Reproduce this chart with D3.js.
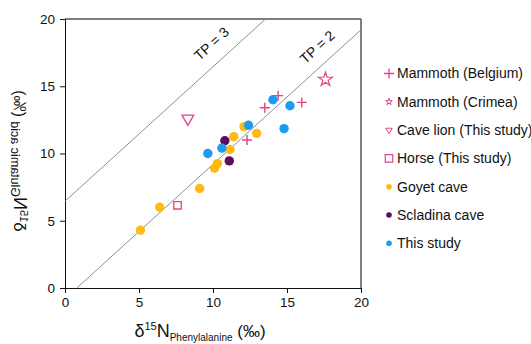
<!DOCTYPE html>
<html><head><meta charset="utf-8">
<script src="https://cdn.jsdelivr.net/npm/d3@7"></script>
<style>body{margin:0;background:#fff}svg{display:block;font-family:"Liberation Sans",Arial,sans-serif}</style>
</head><body><svg width="531" height="344"></svg>
<script>
// ---- data ----
const xTicks = [0, 5, 10, 15, 20];
const yTicks = [0, 5, 10, 15, 20];
const mammothBelgium = [[12.3, 11.0], [13.5, 13.4], [14.4, 14.3], [16.0, 13.8]];
const mammothCrimea = [[17.6, 15.5]];
const caveLion = [[8.3, 12.6]];
const horse = [[7.6, 6.15]];
const goyetCave = [[5.1, 4.3], [6.4, 6.0], [9.1, 7.4], [10.1, 8.9], [10.3, 9.25], [11.15, 10.3], [11.4, 11.25], [12.1, 12.0], [12.95, 11.5]];
const scladinaCave = [[10.8, 10.95], [11.1, 9.45]];
const thisStudy = [[9.65, 10.0], [10.6, 10.4], [12.4, 12.1], [14.8, 11.85], [14.05, 14.0], [15.2, 13.55]];
const tpLabels = ["TP = 3", "TP = 2"];
const tpLineEnds = [[[0, 6.45], [13.55, 20]], [[0.8, 0], [20, 19.2]]];
const legendLabels = ["Mammoth (Belgium)", "Mammoth (Crimea)", "Cave lion (This study)", "Horse (This study)", "Goyet cave", "Scladina cave", "This study"];

// ---- drawing ----
const pink = "#e5428a", yellow = "#fdbb13", purple = "#5b0c5e", blue = "#1c9bef";
const svg = d3.select("svg");
const x = d3.scaleLinear().domain([0, 20]).range([65, 361]);
const y = d3.scaleLinear().domain([0, 20]).range([288, 19]);

// box
svg.append("line").attr("x1", x(0)).attr("x2", x(20)).attr("y1", y(20)).attr("y2", y(20)).attr("stroke", "#555").attr("stroke-width", 1.5);
svg.append("line").attr("x1", x(20)).attr("x2", x(20)).attr("y1", y(20)).attr("y2", y(0)).attr("stroke", "#555").attr("stroke-width", 1.5);

const gx = svg.append("g").attr("transform", `translate(0,${y(0)})`)
  .call(d3.axisBottom(x).tickValues(xTicks).tickSize(5).tickSizeOuter(0).tickPadding(4));
const gy = svg.append("g").attr("transform", `translate(${x(0)},0)`)
  .call(d3.axisLeft(y).tickValues(yTicks).tickSize(5).tickSizeOuter(0).tickPadding(5));
[gx, gy].forEach(g => {
  g.selectAll("text").attr("font-size", 13.5).attr("fill", "#111").attr("font-family", "Liberation Sans, Arial, sans-serif");
  g.selectAll("line,path").attr("stroke", "#111");
});

// TP lines
const angle = Math.atan2(y(1) - y(0), x(1) - x(0)) * 180 / Math.PI;
tpLineEnds.forEach(ends => {
  svg.append("line").attr("x1", x(ends[0][0])).attr("y1", y(ends[0][1]))
    .attr("x2", x(ends[1][0])).attr("y2", y(ends[1][1]))
    .attr("stroke", "#8f8f8f").attr("stroke-width", 1);
});
const tpPos = [[9.95, 18.1], [17.1, 17.85]];
tpLabels.forEach((t, i) => {
  svg.append("text").attr("transform", `translate(${x(tpPos[i][0])},${y(tpPos[i][1])}) rotate(${angle})`)
    .attr("text-anchor", "middle").attr("dominant-baseline", "middle")
    .attr("font-size", 14).attr("fill", "#111").text(t);
});

function crossPath(h) { return `M${-h},0H${h}M0,${-h}V${h}`; }

const plot = svg.append("g");
plot.selectAll(".mb").data(mammothBelgium).join("path")
  .attr("transform", d => `translate(${x(d[0])},${y(d[1])})`)
  .attr("d", crossPath(5)).attr("stroke", pink).attr("stroke-width", 1.4).attr("fill", "none");
plot.selectAll(".mc").data(mammothCrimea).join("path")
  .attr("transform", d => `translate(${x(d[0])},${y(d[1])})`)
  .attr("d", d3.symbol(d3.symbolStar, 60)()).attr("stroke", pink).attr("stroke-width", 1.2).attr("fill", "none");
plot.selectAll(".cl").data(caveLion).join("path")
  .attr("transform", d => `translate(${x(d[0])},${y(d[1])}) rotate(180)`)
  .attr("d", d3.symbol(d3.symbolTriangle, 60)()).attr("stroke", pink).attr("stroke-width", 1.3).attr("fill", "none");
plot.selectAll(".hs").data(horse).join("path")
  .attr("transform", d => `translate(${x(d[0])},${y(d[1])})`)
  .attr("d", d3.symbol(d3.symbolSquare, 56)()).attr("stroke", pink).attr("stroke-width", 1.3).attr("fill", "none");
[[goyetCave, yellow], [scladinaCave, purple], [thisStudy, blue]].forEach(([arr, c]) => {
  plot.append("g").selectAll("circle").data(arr).join("circle")
    .attr("cx", d => x(d[0])).attr("cy", d => y(d[1])).attr("r", 4.7).attr("fill", c);
});

// legend
const lg = svg.append("g");
const ly = i => 73.5 + i * 28.3;
const lx = 389;
legendLabels.forEach((t, i) => {
  const g = lg.append("g").attr("transform", `translate(${lx},${ly(i)})`);
  if (i === 0) g.append("path").attr("d", crossPath(5)).attr("stroke", pink).attr("stroke-width", 1.3).attr("fill", "none");
  if (i === 1) g.append("path").attr("d", d3.symbol(d3.symbolStar, 14)()).attr("stroke", pink).attr("stroke-width", 1).attr("fill", "none");
  if (i === 2) g.append("path").attr("transform", "rotate(180)").attr("d", d3.symbol(d3.symbolTriangle, 18)()).attr("stroke", pink).attr("stroke-width", 1).attr("fill", "none");
  if (i === 3) g.append("path").attr("d", d3.symbol(d3.symbolSquare, 56)()).attr("stroke", pink).attr("stroke-width", 1.2).attr("fill", "none");
  if (i >= 4) g.append("circle").attr("r", 2.8).attr("fill", [yellow, purple, blue][i - 4]);
  g.append("text").attr("x", 8).attr("dy", "0.35em").attr("font-size", 14).attr("fill", "#111").text(t);
});

// axis labels
const xl = svg.append("text").attr("x", 200).attr("y", 337).attr("text-anchor", "middle").attr("fill", "#111").attr("font-size", 18);
xl.append("tspan").text("δ");
xl.append("tspan").attr("dy", -7).attr("font-size", 11).text("15");
xl.append("tspan").attr("dy", 7).text("N");
xl.append("tspan").attr("dy", 4).attr("font-size", 10).text("Phenylalanine");
xl.append("tspan").attr("dy", -4).attr("font-size", 17).text(" (‰)");

// y label appears mirrored in the reference
const yl = svg.append("text").attr("transform", "translate(14,161) rotate(-90) scale(1,-1)").attr("text-anchor", "middle").attr("fill", "#111").attr("font-size", 17);
yl.append("tspan").text("δ");
yl.append("tspan").attr("dy", -6).attr("font-size", 11).text("15");
yl.append("tspan").attr("dy", 6).attr("font-size", 18).text("N");
yl.append("tspan").attr("dy", 3).attr("font-size", 12.5).text("Glutamic acid");
yl.append("tspan").attr("dy", -3).attr("font-size", 16).text(" (‰)");
</script></body></html>
